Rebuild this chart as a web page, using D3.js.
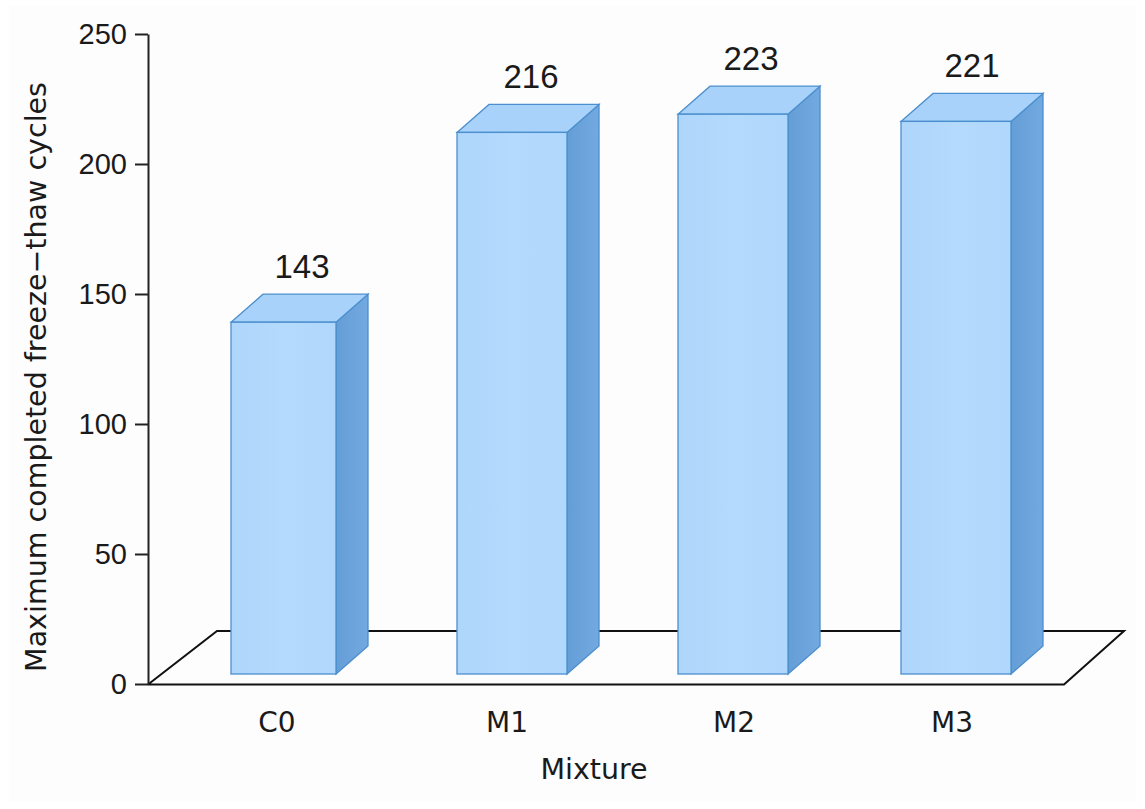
<!DOCTYPE html>
<html><head><meta charset="utf-8">
<script src="https://cdn.jsdelivr.net/npm/d3@7"></script>
<style>html,body{margin:0;padding:0;background:#fff}svg{display:block}text{font-family:"Liberation Sans",Arial,sans-serif;fill:#1a1a1a}.dv{font-family:"DejaVu Sans",sans-serif}</style>
</head><body>
<script>
const categories = ["C0","M1","M2","M3"];
const values = [143,216,223,221];
const yTicks = [0,50,100,150,200,250];
const xTitle = "Mixture";
const yTitle = "Maximum completed freeze\u2212thaw cycles";

const W=1145,H=809;
const svg=d3.select("body").append("svg").attr("width",W).attr("height",H);
svg.append("rect").attr("width",W).attr("height",H).attr("fill","#fff");
svg.append("rect").attr("x",9).attr("y",6).attr("width",1127).attr("height",795).attr("fill","#fdfdfd");

const y=d3.scaleLinear().domain([0,250]).range([684,34]);
const xLeft=d3.scaleOrdinal().domain(categories).range([231,457,678,901]);
const xWidth=d3.scaleOrdinal().domain(categories).range([105,110,110,110]);
const labelX=d3.scaleOrdinal().domain(categories).range([277,507,734,952]);
const valueX=d3.scaleOrdinal().domain(categories).range([302,531,751,972]);
const topInset=d3.scaleOrdinal().domain(categories).range([10,10,10,12]);
const depthX=32,depthY=28,inset=10;
const floorFront=684.5,floorBack=631,axisX=148;

const defs=svg.append("defs");
const g=defs.append("linearGradient").attr("id","front").attr("x1",0).attr("x2",1).attr("y1",0).attr("y2",0);
g.append("stop").attr("offset",0).attr("stop-color","#aed6fb");
g.append("stop").attr("offset",.5).attr("stop-color","#b4dafd");
g.append("stop").attr("offset",1).attr("stop-color","#b0d8fc");
const s=defs.append("linearGradient").attr("id","side").attr("x1",0).attr("x2",1).attr("y1",0).attr("y2",0);
s.append("stop").attr("offset",0).attr("stop-color","#659dd6");
s.append("stop").attr("offset",1).attr("stop-color","#72a9e0");

// floor
const line=(pts)=>d3.line()(pts);
svg.append("path").attr("d",line([[axisX,floorFront],[217,floorBack],[1124,floorBack],[1064,floorFront],[axisX,floorFront]]))
  .attr("fill","none").attr("stroke","#111").attr("stroke-width",2);

// y axis
const yAxis=d3.axisLeft(y).tickValues(yTicks).tickSize(13).tickPadding(8).tickSizeOuter(0);
const ga=svg.append("g").attr("transform",`translate(${axisX},0)`).call(yAxis);
ga.select(".domain").attr("stroke","#222").attr("stroke-width",2);
ga.selectAll(".tick line").attr("stroke","#222").attr("stroke-width",2);
ga.selectAll(".tick text").attr("font-size",29).attr("fill","#1a1a1a");

// bars
const stroke="#4b8fce";
const bars=svg.selectAll("g.bar").data(categories.map((c,i)=>({c,v:values[i]}))).join("g").attr("class","bar");
const baseY=y(0)-inset;
const topY=d=>y(d.v)+topInset(d.c);
bars.append("path").attr("d",d=>{const r=xLeft(d.c)+xWidth(d.c),t=topY(d);
  return line([[r,t],[r+depthX,t-depthY],[r+depthX,baseY-depthY],[r,baseY]])+"Z";})
  .attr("fill","url(#side)").attr("stroke",stroke).attr("stroke-width",1.3);
bars.append("path").attr("d",d=>{const l=xLeft(d.c),r=l+xWidth(d.c),t=topY(d);
  return line([[l,t],[l+depthX,t-depthY],[r+depthX,t-depthY],[r,t]])+"Z";})
  .attr("fill","#a8d2f9").attr("stroke",stroke).attr("stroke-width",1.3);
bars.append("rect").attr("x",d=>xLeft(d.c)).attr("y",topY).attr("width",d=>xWidth(d.c))
  .attr("height",d=>baseY-topY(d)).attr("fill","url(#front)").attr("stroke",stroke).attr("stroke-width",1.3);
bars.append("text").attr("x",d=>valueX(d.c)).attr("y",d=>topY(d)-44).attr("text-anchor","middle")
  .attr("font-size",33).text(d=>d.v);
bars.append("text").attr("class","dv").attr("x",d=>labelX(d.c)).attr("y",732).attr("text-anchor","middle")
  .attr("font-size",28).text(d=>d.c);

svg.append("text").attr("class","dv").attr("x",594).attr("y",779).attr("text-anchor","middle").attr("font-size",28.5).text(xTitle);
svg.append("text").attr("class","dv").attr("transform","translate(46,377) rotate(-90)").attr("text-anchor","middle").attr("font-size",28.5).text(yTitle);
</script>
</body></html>
